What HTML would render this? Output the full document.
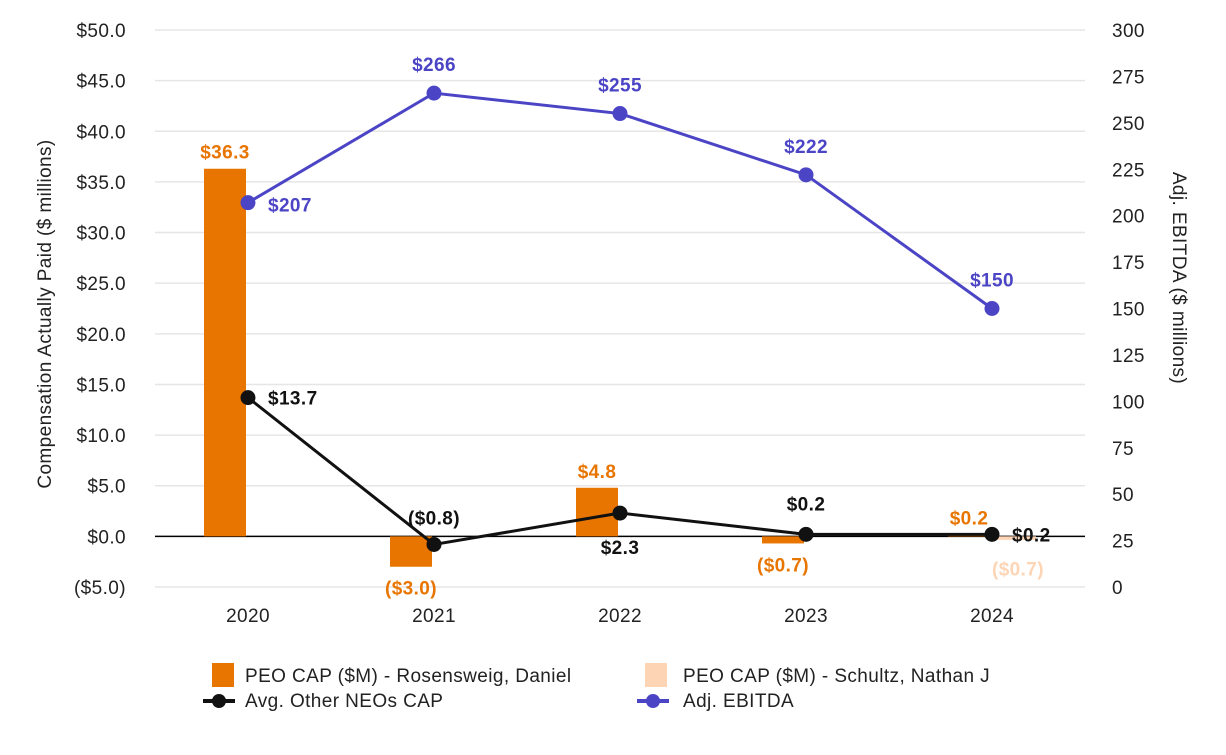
<!DOCTYPE html>
<html><head><meta charset="utf-8"><style>
body{margin:0;background:#fff;font-family:"Liberation Sans",sans-serif}
svg text{font-family:"Liberation Sans",sans-serif;letter-spacing:0.4px}
</style></head><body>
<svg id="chart" width="1226" height="750"></svg>
<script>
const years=["2020","2021","2022","2023","2024"];
const rosensweig=[36.3,-3.0,4.8,-0.7,0.2];
const schultz=[null,null,null,null,-0.7];
const neo=[13.7,-0.8,2.3,0.2,0.2];
const ebitda=[207,266,255,222,150];
const leftTicks=[-5,0,5,10,15,20,25,30,35,40,45,50];
const rightTicks=[0,25,50,75,100,125,150,175,200,225,250,275,300];
const NS="http://www.w3.org/2000/svg";
const svg=document.getElementById('chart');
const yTop=30,yBot=587;
const yL=v=>yBot-(v+5)/55*(yBot-yTop);
const yR=v=>yBot-v/300*(yBot-yTop);
const xC=i=>248+i*186;
function el(t,a,p){const e=document.createElementNS(NS,t);for(const k in a)e.setAttribute(k,a[k]);(p||svg).appendChild(e);return e;}
function tx(x,y,s,a,p){const e=el('text',Object.assign({x:x,y:y},a),p);e.textContent=s;return e;}
const fmt=v=>v<0?"($"+Math.abs(v).toFixed(1)+")":"$"+v.toFixed(1);
leftTicks.forEach(v=>{
 const g=el('line',{x1:155,x2:1085,y1:yL(v),y2:yL(v),stroke:v===0?'#000':'#e6e6e6','stroke-width':1.5});
 
 
 const t=tx(126,yL(v)+7,fmt(v),{'text-anchor':'end','font-size':19,fill:'#222'});
 
 
});
rightTicks.forEach(v=>{
 const t=tx(1112,yR(v)+7,String(v),{'font-size':19,fill:'#222'});
 
 
});
years.forEach((y,i)=>{
 const t=tx(xC(i),622,y,{'text-anchor':'middle','font-size':19,fill:'#222'});
 
 
});
const lt=tx(0,0,"Compensation Actually Paid ($ millions)",{'text-anchor':'middle','font-size':19,fill:'#222',transform:'translate(51,314) rotate(-90)'});


const rt=tx(0,0,"Adj. EBITDA ($ millions)",{'text-anchor':'middle','font-size':19,fill:'#222',transform:'translate(1173,278) rotate(90)'});


rosensweig.forEach((v,i)=>{
 if(v==null)return;
 const x=xC(i)-44,y0=yL(0),y1=yL(v);
 const r=el('rect',{x:x,y:Math.min(y0,y1),width:42,height:Math.abs(y1-y0),fill:'#e87500'});
 
 
 const ly=v>=0?y1-10:y0+Math.abs(y1-y0)+28;
 const t=tx(x+21,ly,fmt(v),{'text-anchor':'middle','font-size':19,'font-weight':'bold',fill:'#e87500'});
 
 
});
schultz.forEach((v,i)=>{
 if(v==null)return;
 const x=xC(i)+2,y0=yL(0),y1=yL(v);
 const r=el('rect',{x:x,y:Math.min(y0,y1),width:42,height:Math.abs(y1-y0)*0.5,fill:'#fdd5b5'});
 
 
 const t=tx(x+24,y0+39,fmt(v),{'text-anchor':'middle','font-size':19,'font-weight':'bold',fill:'#fdd5b5'});
 
 
});
function line(vals,yf,color,name){
 const p=el('polyline',{points:vals.map((v,i)=>xC(i)+','+yf(v)).join(' '),fill:'none',stroke:color,'stroke-width':3});
 
 
 vals.forEach((v,i)=>{
  const c=el('circle',{cx:xC(i),cy:yf(v),r:7.5,fill:color});
  
  
 });
}
line(neo,yL,'#111','avg-neo');
line(ebitda,yR,'#4b45c6','ebitda');
const neoOff=[[20,7,'start'],[0,-20,'middle'],[0,41,'middle'],[0,-24,'middle'],[20,7,'start']];
neo.forEach((v,i)=>{
 const o=neoOff[i];
 const t=tx(xC(i)+o[0],yL(v)+o[1],fmt(v),{'text-anchor':o[2],'font-size':19,'font-weight':'bold',fill:'#111'});
 
 
});
const ebOff=[[20,9,'start'],[0,-22,'middle'],[0,-22,'middle'],[0,-22,'middle'],[0,-22,'middle']];
ebitda.forEach((v,i)=>{
 const o=ebOff[i];
 const t=tx(xC(i)+o[0],yR(v)+o[1],"$"+v,{'text-anchor':o[2],'font-size':19,'font-weight':'bold',fill:'#4b45c6'});
 
 
});
function leg(sx,tx0,y,kind,color,label,name){
 const g=el('g',{});
 
 
 if(kind==='bar')el('rect',{x:sx,y:y-12,width:22,height:24,fill:color},g);
 else{el('line',{x1:sx,x2:sx+32,y1:y+1,y2:y+1,stroke:color,'stroke-width':4},g);el('circle',{cx:sx+16,cy:y+1,r:7,fill:color},g);}
 tx(tx0,y+7,label,{'font-size':19,fill:'#222'},g);
}
leg(212,245,675,'bar','#e87500','PEO CAP ($M) - Rosensweig, Daniel','legend-rosensweig');
leg(645,683,675,'bar','#fdd5b5','PEO CAP ($M) - Schultz, Nathan J','legend-schultz');
leg(203,245,700,'line','#111','Avg. Other NEOs CAP','legend-avg-neo');
leg(637,683,700,'line','#4b45c6','Adj. EBITDA','legend-ebitda');
</script>
</body></html>
